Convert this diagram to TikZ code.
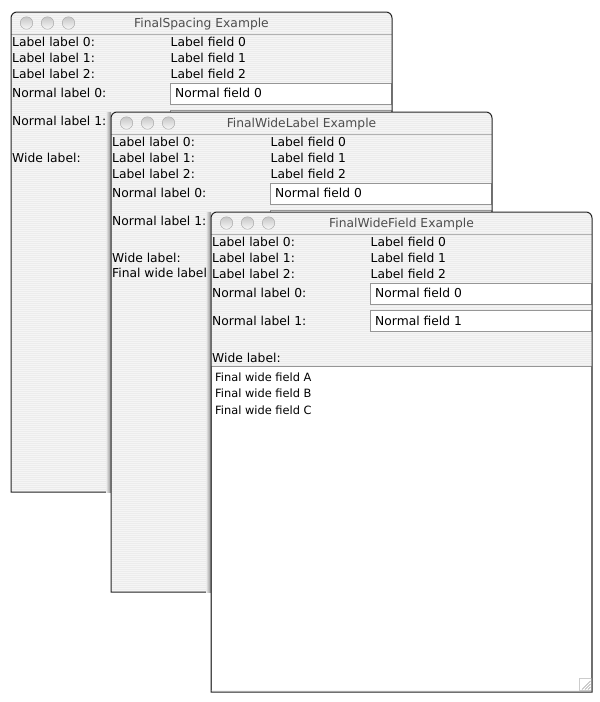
\documentclass[tikz,border=0pt]{standalone}
\usepackage{fontspec}
\setmainfont{DejaVu Sans}
\usepackage{tikz}
\usetikzlibrary{patterns.meta}

\definecolor{winbg}{RGB}{236,236,236}
\definecolor{stripe}{RGB}{245,245,245}
\definecolor{titletext}{RGB}{77,77,77}
\definecolor{fieldline}{RGB}{150,150,150}

\tikzset{
  lbl/.style={anchor=west, inner sep=0pt, text height=10.5pt, text depth=2.5pt, font=\fontsize{12.3}{14}\selectfont},
  small/.style={lbl, font=\fontsize{11.4}{13}\selectfont},
  ttl/.style={lbl, anchor=center, text=titletext},
  field/.style={fill=white, draw=fieldline, line width=0.8pt},
  winframe/.style={draw=black!85, line width=1pt},
  knob/.style={circle, minimum size=12.5pt, inner sep=0pt, draw=gray!70, top color=gray!45, bottom color=gray!5},
  winshadow/.style={left color=winbg, right color=black!45},
}

% one window: #1 prefix for node names, #2 title
\newcommand{\macwin}[2]{%
  \path[fill=winbg, postaction={pattern={Lines[angle=0,distance=2pt,line width=0.7pt]}, pattern color=stripe}]
    (0,480) [rounded corners=6pt] -- (0,0) -- (381,0) [sharp corners] -- (381,480) -- cycle;
  \draw[gray!60] (0,22) -- (381,22);
  \foreach \i/\x in {1/15.5,2/36.5,3/57.5}
    \node[knob] (#1k\i) at (\x,11) {};
  \node[ttl] (#1title) at (190.5,11) {#2};
  \foreach \i/\y in {0/30,1/46,2/62} {
    \node[lbl] (#1ll\i) at (1,\y) {Label label \i:};
    \node[lbl] (#1lf\i) at (159.5,\y) {Label field \i};
  }
  \draw[field] (159,71) rectangle (380,92);
  \node[lbl] (#1nl0) at (1,81) {Normal label 0:};
  \node[lbl] (#1nf0) at (164,81) {Normal field 0};
  \draw[field] (159,98) rectangle (380,119);
  \node[lbl] (#1nl1) at (1,109) {Normal label 1:};
  \node[lbl] (#1wl) at (1,146) {Wide label:};
}
\newcommand{\macwinborder}{%
  \draw[winframe] (0,480) [rounded corners=6pt] -- (0,0) -- (381,0) [sharp corners] -- (381,480) -- cycle;
}

\begin{document}
\begin{tikzpicture}[x=1pt, y=-1pt]
	\useasboundingbox[fill=white] (0,0) rectangle (600,702);
	% FinalSpacing
	\begin{scope}[shift={(11,12)}]
		\macwin{sp}{FinalSpacing Example}
		\macwinborder
	\end{scope}
	% FinalWideLabel
	\begin{scope}[shift={(111,112)}]
		\shade[winshadow] (-5,0) rectangle (0,380);
		\macwin{wl}{FinalWideLabel Example}
		\node[lbl] (wlfl) at (1,161) {Final wide label};
		\macwinborder
	\end{scope}
	% FinalWideField
	\begin{scope}[shift={(211,212)}]
		\shade[winshadow] (-5,0) rectangle (0,380);
		\macwin{wf}{FinalWideField Example}
		\node[lbl] (wfnf1) at (164,109) {Normal field 1};
		\draw[fill=white, draw=fieldline, line width=0.8pt] (0.5,478) -- (0.5,154) -- (380.5,154) -- (380.5,478);
		\node[small] (wfa) at (4,165) {Final wide field A};
		\node[small] (wfb) at (4,181.5) {Final wide field B};
		\node[small] (wfc) at (4,198) {Final wide field C};
		\draw[gray!40] (368,466) rectangle (380,478);
		\foreach \d in {3,6,9}
			\draw[gray!80, line width=0.6pt] ({380-\d},477.5) -- (379.5,{478-\d});
		\macwinborder
	\end{scope}
\end{tikzpicture}
\end{document}
